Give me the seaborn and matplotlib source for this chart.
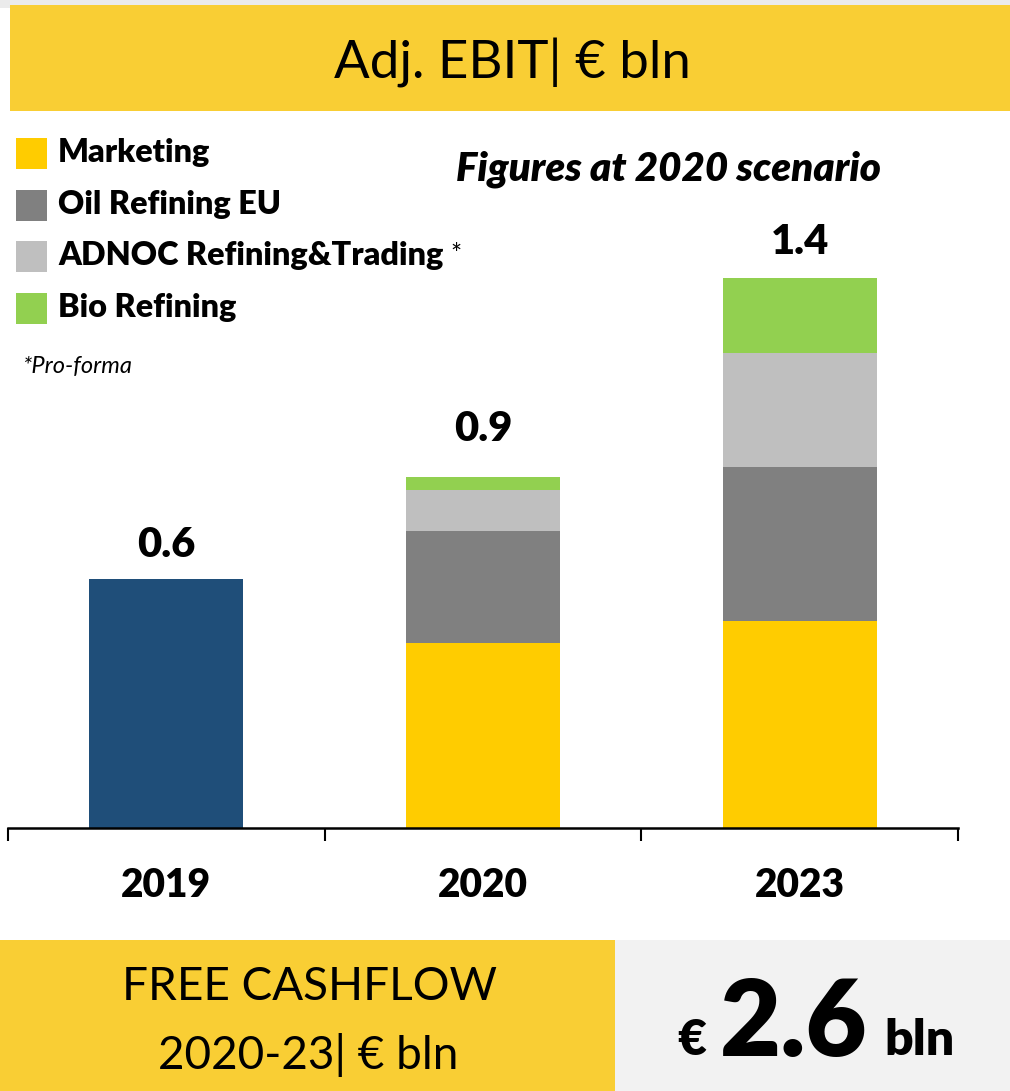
import numpy as np
import pandas as pd
import matplotlib
matplotlib.use('Agg')
import matplotlib.pyplot as plt
from matplotlib.patches import Rectangle
import seaborn as sns

# ── Data ──────────────────────────────────────────────────────────────────────
years = ['2019', '2020', '2023']
ebit_2019 = 0.6
marketing = [0.0, 0.445, 0.50]
oil_refining_eu = [0.0, 0.27, 0.37]
adnoc = [0.0, 0.10, 0.275]
bio_refining = [0.0, 0.03, 0.18]
value_labels = ['0.6', '0.9', '1.4']
segment_names = ['Marketing', 'Oil Refining EU', 'ADNOC Refining&Trading', 'Bio Refining']
free_cashflow = '2.6'

# ── Style ─────────────────────────────────────────────────────────────────────
sns.set_theme(style='white')
plt.rcParams['font.family'] = ['Lato', 'DejaVu Sans']
plt.rcParams['text.color'] = 'black'
plt.rcParams['xtick.color'] = 'black'

W, H = 1010, 1091
BANNER = '#F9CE34'
seg_colors = ['#FFCC00', '#808080', '#BFBFBF', '#92D050']
BLUE = '#1F4E79'


def fx(x):
    return x / W


def fy(y):
    return 1 - y / H


fig = plt.figure(figsize=(W / 100, H / 100), dpi=100)

# background panels
fig.add_artist(Rectangle((0, fy(8)), 1, 8 / H, transform=fig.transFigure, color='#EBEBEB', lw=0))
fig.add_artist(Rectangle((fx(10), fy(111)), 1 - fx(10), 106 / H, transform=fig.transFigure,
                         color=BANNER, lw=0))
fig.add_artist(Rectangle((0, 0), fx(615), (H - 940) / H, transform=fig.transFigure, color=BANNER, lw=0))
fig.add_artist(Rectangle((fx(615), 0), 1 - fx(615), (H - 940) / H, transform=fig.transFigure,
                         color='#F2F2F2', lw=0))

fig.text(fx(512), fy(78), 'Adj. EBIT| € bln', fontsize=38, ha='center', va='baseline')

# ── Bar chart ─────────────────────────────────────────────────────────────────
ax = fig.add_axes([fx(8), fy(828), 950 / W, 708 / H])
ax.set_facecolor('none')

seg_values = np.array([marketing, oil_refining_eu, adnoc, bio_refining])
cum = np.cumsum(seg_values, axis=0)

# draw from the full stack down so lower segments sit on top
for i in range(len(segment_names) - 1, -1, -1):
    layer = pd.DataFrame({'year': years, 'value': cum[i]})
    sns.barplot(data=layer, x='year', y='value', order=years, color=seg_colors[i],
                saturation=1, width=0.486, errorbar=None, linewidth=0, ax=ax)

sns.barplot(x=['2019'], y=[ebit_2019], order=years, color=BLUE, saturation=1,
            width=0.486, errorbar=None, linewidth=0, ax=ax)

totals = [ebit_2019, cum[-1][1], cum[-1][2]]
label_offsets = [11, 21, 12]
for i, (tot, lab) in enumerate(zip(totals, value_labels)):
    ax.annotate(lab, (i, tot), xytext=(0, label_offsets[i]), textcoords='offset points',
                ha='center', va='bottom', fontsize=30, fontweight='heavy')

ax.set_xlim(-0.5, 2.5)
ax.set_ylim(0, 708 / 415)
ax.set_xlabel('')
ax.set_ylabel('')
ax.set_yticks([])
for s in ['top', 'left', 'right']:
    ax.spines[s].set_visible(False)
ax.spines['bottom'].set_color('black')
ax.spines['bottom'].set_linewidth(1.8)
ax.set_xticks(range(len(years)))
ax.set_xticklabels(years, fontsize=28, fontweight='heavy')
ax.set_xticks([-0.5, 0.5, 1.5, 2.5], minor=True)
ax.tick_params(axis='x', which='major', length=0, pad=28)
ax.tick_params(axis='x', which='minor', length=9.5, width=1.5, color='black', direction='out', bottom=True)

# ── Legend ────────────────────────────────────────────────────────────────────
row_tops = [138, 190, 241, 293]
for name, col, top in zip(segment_names, seg_colors, row_tops):
    fig.add_artist(Rectangle((fx(16), fy(top + 31)), 31 / W, 31 / H, transform=fig.transFigure,
                             color=col, lw=0))
    fig.text(fx(58), fy(top + 24), name, fontsize=23.3, fontweight='heavy', ha='left', va='baseline')
fig.text(fx(450), fy(263), '*', fontsize=19, ha='left', va='baseline')
fig.text(fx(22), fy(373), '*Pro-forma', fontsize=17, style='italic', ha='left', va='baseline')
fig.text(fx(669), fy(180), 'Figures at 2020 scenario', fontsize=29, fontweight='heavy',
         style='italic', ha='center', va='baseline')

# ── Free cashflow panel ───────────────────────────────────────────────────────
fig.text(fx(310), fy(1000), 'FREE CASHFLOW', fontsize=33, ha='center', va='baseline')
fig.text(fx(308), fy(1069), '2020-23| € bln', fontsize=33, ha='center', va='baseline')
fig.text(fx(677), fy(1055), '€', fontsize=36, fontweight='heavy', ha='left', va='baseline')
fig.text(fx(794), fy(1056), free_cashflow, fontsize=76, fontweight='heavy', ha='center', va='baseline')
fig.text(fx(884), fy(1055), 'bln', fontsize=36, fontweight='heavy', ha='left', va='baseline')

fig.savefig('out.png', dpi=100)
